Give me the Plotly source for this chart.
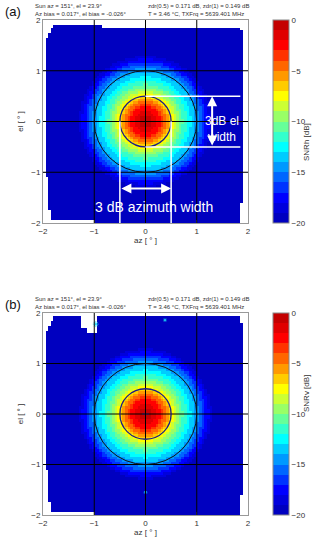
import numpy as np
import plotly.graph_objects as go

# radial beam profile (dB vs. offset from beam centre, deg)
radius = [0.0, 0.1, 0.2, 0.3, 0.4, 0.5, 0.6, 0.7, 0.8, 0.9, 1.0, 1.1, 1.2, 1.3, 1.4, 2.9]
snr_h = [-0.3, -0.8, -1.8, -3.2, -5.0, -7.2, -9.0, -10.6, -12.0, -13.2, -14.4, -15.8, -17.4, -19.2, -20.5, -20.5]
snr_v = [-0.3, -0.8, -1.8, -3.2, -5.0, -7.2, -9.0, -10.6, -12.0, -13.3, -14.5, -15.9, -17.5, -19.3, -20.5, -20.5]

# areas without scan data (az0, az1, el0, el1)
gaps_a = [(-2, 2, 1.92, 2), (-0.85, 2, 1.86, 2), (-2, -1.8, 1.85, 2), (-2, -1.85, 1.75, 2),
          (-2, -1.9, 1.65, 2), (-2, -1.95, -2, 2), (-2, -1.9, -2, -1.1), (-2, -1.85, -2, -1.75),
          (-2, -1.0, -2, -1.95), (1.92, 2, -2, 2), (1.87, 2, -2, -1.6), (1.85, 2, 1.8, 2)]
gaps_b = [(-2, 2, 1.94, 2), (-1.25, -0.95, 1.7, 2), (-1.15, -0.95, 1.6, 2), (-2, -1.8, 1.85, 2),
          (-2, -1.85, 1.75, 2), (-2, -1.9, 1.65, 2), (-2, -1.95, -2, 2), (-2, -1.9, -2, -1.1),
          (-2, -1.85, -2, -1.75), (-2, -1.0, -2, -1.95), (1.92, 2, -2, 2), (1.87, 2, -2, -1.6),
          (1.85, 2, 1.8, 2)]

ticks = [-2, -1, 0, 1, 2]
cb_ticks = [0, -5, -10, -15, -20]

header_left = "Sun az = 151°, el = 23.9°<br>Az bias = 0.017°, el bias = -0.026°"
header_right = "zdr(0.5) = 0.171 dB, zdr(1) = 0.149 dB<br>T = 3.46 °C, TXFrq = 5639.401 MHz"

jet20 = ["#0000c0", "#0000dd", "#0000ff", "#0033ff", "#0066ff", "#0099ff", "#00ccff",
         "#00ffff", "#33ffcc", "#66ff99", "#99ff66", "#ccff33", "#ffff00", "#ffcc00",
         "#ff9900", "#ff6600", "#ff3300", "#ff0000", "#e00000", "#c40000"]
cscale = []
for i, c in enumerate(jet20):
    cscale.append([i / 20, c])
    cscale.append([(i + 1) / 20, c])

grid = np.arange(-1.975, 2.0, 0.05)
AZ, EL = np.meshgrid(grid, grid)
R = np.hypot(AZ, EL)


def field(profile, gaps):
    z = np.interp(R, radius, profile)
    for a0, a1, e0, e1 in gaps:
        z[(AZ > a0) & (AZ < a1) & (EL > e0) & (EL < e1)] = np.nan
    return z


FONT = "Liberation Sans, Arial, sans-serif"
W, H = 320, 542
doms = {"a": [1 - 223 / H, 1 - 20 / H], "b": [1 - 515 / H, 1 - 313 / H]}

fig = go.Figure()
for n, (key, prof, gaps, title) in enumerate([("a", snr_h, gaps_a, "SNRh [dB]"),
                                               ("b", snr_v, gaps_b, "SNRv [dB]")]):
    sfx = "" if n == 0 else "2"
    dom = doms[key]
    fig.add_trace(go.Heatmap(
        x=grid, y=grid, z=field(prof, gaps), zmin=-20, zmax=0, colorscale=cscale,
        xaxis="x" + sfx, yaxis="y" + sfx, hoverinfo="skip",
        colorbar=dict(x=273 / W, xanchor="left", thickness=16, len=dom[1] - dom[0],
                      lenmode="fraction", y=sum(dom) / 2, yanchor="middle", ypad=0, xpad=0,
                      tickvals=cb_ticks, ticks="", outlinecolor="#888", outlinewidth=1,
                      tickfont=dict(size=8, color="#333", family=FONT))))
    xa = dict(domain=[43 / W, 248 / W], range=[-2, 2], tickvals=ticks, ticks="inside",
              ticklen=3, tickcolor="#888", showline=True, mirror=True, linecolor="#999",
              showgrid=False, zeroline=False, automargin=False,
              tickfont=dict(size=8, color="#333", family=FONT),
              title=dict(text="az [ ° ]", standoff=2, font=dict(size=8, color="#333", family=FONT)))
    ya = dict(domain=dom, range=[-2, 2], tickvals=ticks, ticks="inside", ticklen=3,
              tickcolor="#888", showline=True, mirror=True, linecolor="#999", showgrid=False,
              zeroline=False, automargin=False, tickfont=dict(size=8, color="#333", family=FONT),
              title=dict(text="el [ ° ]", standoff=6, font=dict(size=8, color="#333", family=FONT)))
    if n == 0:
        fig.update_layout(xaxis=xa, yaxis=dict(ya, anchor="x"))
    else:
        fig.update_layout(xaxis2=dict(xa, anchor="y2"), yaxis2=dict(ya, anchor="x2"))
    xr, yr = "x" + sfx, "y" + sfx
    for v in [-1, 0, 1]:
        fig.add_shape(type="line", xref=xr, yref=yr, x0=v, x1=v, y0=-2, y1=2,
                      line=dict(color="black", width=1))
        fig.add_shape(type="line", xref=xr, yref=yr, x0=-2, x1=2, y0=v, y1=v,
                      line=dict(color="black", width=1))
    fig.add_shape(type="circle", xref=xr, yref=yr, x0=-1, x1=1, y0=-1, y1=1,
                  line=dict(color="#111", width=1))
    fig.add_shape(type="circle", xref=xr, yref=yr, x0=-0.5, x1=0.5, y0=-0.5, y1=0.5,
                  line=dict(color="#1c1c88", width=1.3))
    fig.add_trace(go.Scatter(x=[0], y=[0], mode="markers", xaxis=xr, yaxis=yr,
                             marker=dict(symbol="cross-thin", size=5, line=dict(color="#3030c0", width=1)),
                             showlegend=False, hoverinfo="skip"))
    top = dom[1]
    fig.add_annotation(x=33 / W, y=top + 10.3 / H, xref="paper", yref="paper", xanchor="left",
                       yanchor="middle", align="left", text=header_left, showarrow=False,
                       font=dict(size=6, color="#333", family=FONT))
    fig.add_annotation(x=146 / W, y=top + 10.3 / H, xref="paper", yref="paper", xanchor="left",
                       yanchor="middle", align="left", text=header_right, showarrow=False,
                       font=dict(size=6, color="#333", family=FONT))
    fig.add_annotation(x=3 / W, y=top + 8.5 / H, xref="paper", yref="paper", xanchor="left",
                       yanchor="middle", text="(" + key + ")", showarrow=False,
                       font=dict(size=13, color="#111", family=FONT))
    fig.add_annotation(x=313 / W, y=sum(dom) / 2, xref="paper", yref="paper", textangle=-90,
                       text=title, showarrow=False, font=dict(size=8, color="#333", family=FONT))

# beam width markers in panel (a)
white = dict(color="white", width=1.5)
for y in [0.5, -0.5]:
    fig.add_shape(type="line", xref="x", yref="y", x0=0, x1=1.85, y0=y, y1=y, line=white)
for x in [-0.5, 0.5]:
    fig.add_shape(type="line", xref="x", yref="y", x0=x, x1=x, y0=0, y1=-2, line=white)
fig.add_annotation(x=0.5, y=-1.32, ax=-0.5, ay=-1.32, xref="x", yref="y", axref="x", ayref="y",
                   text="", showarrow=True, arrowhead=2, arrowside="end+start", arrowsize=1,
                   arrowwidth=2, arrowcolor="white")
fig.add_annotation(x=1.3, y=0.5, ax=1.3, ay=-0.5, xref="x", yref="y", axref="x", ayref="y",
                   text="", showarrow=True, arrowhead=2, arrowside="end+start", arrowsize=1,
                   arrowwidth=2, arrowcolor="white")
fig.add_annotation(x=-1.03, y=-1.68, xref="x", yref="y", xanchor="left", yanchor="middle",
                   text="3 dB azimuth width", showarrow=False,
                   font=dict(size=14, color="white", family=FONT))
fig.add_annotation(x=1.5, y=-0.14, xref="x", yref="y", xanchor="center", yanchor="middle",
                   align="center", text="3dB el<br>width", showarrow=False,
                   font=dict(size=12, color="white", family=FONT))

# stray contour bits in panel (b)
fig.add_trace(go.Scatter(x=[-1.24, -1.18, -1.1, -1.05], y=[1.9, 1.78, 1.68, 1.66], mode="lines",
                         xaxis="x2", yaxis="y2", line=dict(color="white", width=1, dash="dot"),
                         showlegend=False, hoverinfo="skip"))
fig.add_trace(go.Scatter(x=[-0.97, 0.38, 0.0], y=[1.78, 1.86, -1.55], mode="markers",
                         xaxis="x2", yaxis="y2",
                         marker=dict(symbol="asterisk-open", size=[5, 3, 3], line=dict(color="white", width=1)),
                         showlegend=False, hoverinfo="skip"))

fig.update_layout(width=W, height=H, margin=dict(l=0, r=0, t=0, b=0, autoexpand=False),
                  paper_bgcolor="white", plot_bgcolor="white", showlegend=False)
fig.write_html("out.html", config={"displayModeBar": False},
               post_script="document.body.style.margin='0';")
